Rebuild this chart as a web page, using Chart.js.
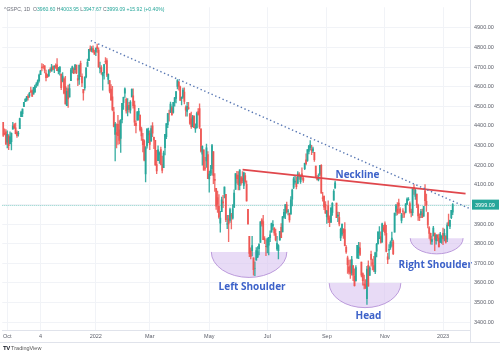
<!DOCTYPE html>
<html><head><meta charset="utf-8">
<script src="https://cdn.jsdelivr.net/npm/chart.js@4.4.1/dist/chart.umd.min.js"></script>
<style>
html,body{margin:0;padding:0;background:#fff;}
#wrap{position:relative;width:500px;height:357px;overflow:hidden;font-family:"Liberation Sans",Arial,sans-serif;}
canvas{position:absolute;left:0;top:0;}
#hdr{position:absolute;left:4px;top:6px;font-size:5.1px;color:#6a6d78;white-space:nowrap;}
#hdr .v{color:#26a69a;}
#logo{position:absolute;left:3px;top:345px;font-size:5.5px;color:#555;white-space:nowrap;}
#logo b{color:#131722;font-size:6px;letter-spacing:-0.5px;}
</style></head>
<body><div id="wrap"><canvas id="c" width="500" height="357"></canvas>
<div id="hdr">^GSPC, 1D &nbsp;O<span class="v">3960.60</span> H<span class="v">4003.95</span> L<span class="v">3947.67</span> C<span class="v">3999.09</span> <span class="v">+15.92 (+0.40%)</span></div>
<div id="logo"><b>TV</b> TradingView</div></div>
<script>
// Daily S&P 500 candles, 28 Sep 2021 .. 12 Jan 2023 (index 0 = 28 Sep 2021)
const opens = [
 4419,4362,4370,
 4317,4348,4310,4320,4384,4406,4391,4368,4359,4386,4447,4463,4498,4524,4532,4553,4553,4579,4580,4562,4573,
 4610,4613,4631,4662,4700,4702,4707,4670,4659,4656,4689,4679,4701,4700,4708,4712,4679,4675,4664,4628,4640,
 4602,4504,4589,4548,4631,4690,4690,4687,4710,4642,4637,4720,4653,4587,4594,4650,4703,4733,4795,4788,4795,4775,
 4778,4804,4787,4693,4698,4655,4670,4729,4734,4637,4632,4588,4548,4471,4357,4367,4409,4381,4337,4432,
 4519,4567,4536,4483,4505,4481,4548,4554,4507,4413,4429,4455,4456,4385,4332,4324,4155,4299,4354,
 4363,4322,4401,4342,4327,4203,4223,4253,4280,4203,4188,4289,4345,4407,4462,4469,4493,4469,4522,4541,4602,4624,4600,
 4540,4547,4573,4494,4474,4494,4462,4437,4397,4449,4385,4390,4473,4489,4385,4256,4279,4187,4222,4254,
 4130,4159,4181,4270,4128,4082,4035,3991,3904,3963,4013,4052,4051,3899,3927,3919,3942,3930,3985,4077,4151,
 4149,4096,4137,4134,4097,4147,4102,3975,3838,3764,3764,3728,3675,3716,3733,3775,3806,3921,3913,3826,3786,
 3782,3793,3831,3859,3889,3881,3851,3773,3764,3819,3883,3860,3935,3955,3998,3965,3953,3951,4027,4087,
 4113,4105,4107,4155,4116,4156,4133,4182,4227,4225,4270,4290,4280,4273,4266,4195,4134,4126,4154,4199,4034,4042,4000,
 3937,3994,3930,3910,3959,4022,4083,4007,3940,3933,3830,3849,3876,3872,3782,3728,3682,3687,3651,3688,3634,
 3610,3726,3754,3778,3706,3647,3594,3590,3520,3690,3638,3746,3703,3689,3657,3762,3799,3825,3836,3808,3881,
 3901,3853,3733,3767,3780,3817,3810,3859,3964,3977,4007,3976,3919,3967,3957,3959,4001,4024,4005,3964,3958,
 4087,4041,4053,3996,3937,3947,3954,3940,4069,4016,3958,3881,3853,3811,3840,3854,3815,3843,3829,3806,3830,
 3853,3840,3839,3823,3910,3888,3932,3961
];
const highs = [
 4419,4385,4382,
 4375,4356,4370,4365,4419,4412,4415,4375,4373,4440,4476,4487,4521,4540,4551,4560,4572,4598,4584,4597,4608,
 4621,4635,4664,4684,4718,4714,4708,4685,4665,4688,4697,4714,4706,4708,4717,4743,4699,4702,4664,4672,4647,
 4653,4595,4608,4613,4694,4705,4696,4713,4711,4660,4712,4731,4666,4587,4651,4697,4741,4791,4808,4805,4808,4787,
 4797,4818,4798,4726,4708,4673,4714,4749,4744,4666,4633,4611,4602,4495,4418,4411,4454,4428,4432,4516,
 4547,4595,4542,4540,4521,4530,4590,4589,4527,4426,4473,4490,4456,4395,4363,4329,4295,4385,4389,
 4375,4401,4417,4343,4327,4276,4299,4268,4292,4247,4272,4358,4412,4465,4481,4522,4501,4521,4546,4575,4637,4627,4604,
 4548,4593,4594,4503,4521,4521,4464,4471,4454,4453,4411,4471,4489,4513,4386,4299,4279,4240,4308,4269,
 4169,4200,4307,4270,4158,4082,4068,4050,3965,4038,4047,4090,4051,3945,3944,3981,3955,3999,4075,4158,4169,
 4167,4177,4143,4168,4165,4160,4120,3975,3838,3779,3838,3728,3708,3780,3785,3800,3913,3928,3945,3836,3818,
 3829,3832,3865,3905,3918,3881,3874,3838,3796,3863,3903,3939,3975,3999,4012,3975,3956,4040,4078,4140,
 4145,4140,4168,4162,4151,4187,4138,4211,4258,4280,4301,4325,4302,4293,4266,4195,4149,4156,4200,4203,4062,4044,4015,
 3970,4018,3942,3987,4010,4076,4119,4007,3961,3960,3880,3900,3876,3907,3790,3737,3716,3718,3736,3689,3672,
 3688,3791,3807,3806,3706,3652,3640,3617,3685,3712,3683,3762,3721,3736,3757,3802,3862,3887,3860,3905,3893,
 3911,3894,3751,3796,3814,3859,3818,3956,4001,4009,4028,3984,3955,3979,3962,4004,4034,4035,4013,3976,4080,
 4101,4080,4053,4002,3952,3975,3977,3991,4101,4053,3958,3887,3854,3839,3889,3854,3845,3846,3849,3858,3840,
 3879,3874,3840,3906,3951,3920,3970,4004
];
const lows = [
 4346,4355,4306,
 4288,4279,4309,4278,4384,4386,4360,4342,4348,4386,4447,4448,4498,4524,4527,4531,4546,4570,4551,4562,4573,
 4596,4604,4623,4662,4681,4694,4670,4630,4647,4651,4673,4679,4686,4672,4694,4682,4665,4659,4585,4625,4564,
 4511,4504,4495,4547,4631,4670,4667,4670,4667,4606,4612,4651,4600,4531,4583,4645,4703,4733,4780,4778,4775,4765,
 4758,4775,4699,4671,4663,4582,4639,4717,4651,4614,4569,4530,4477,4395,4222,4288,4306,4309,4265,4415,
 4485,4545,4465,4451,4471,4465,4548,4491,4402,4365,4429,4429,4373,4327,4268,4222,4115,4287,4315,
 4279,4322,4346,4284,4199,4157,4223,4209,4202,4161,4187,4252,4335,4391,4425,4469,4455,4465,4501,4518,4589,4582,4530,
 4507,4541,4513,4450,4450,4485,4408,4387,4395,4392,4367,4390,4455,4386,4267,4200,4175,4173,4189,4132,
 4062,4147,4150,4106,4067,3975,3959,3929,3859,3963,3984,4033,3912,3877,3810,3909,3875,3925,3985,4077,4109,
 4074,4074,4098,4110,4081,4107,4017,3900,3734,3722,3738,3640,3637,3716,3729,3743,3806,3889,3820,3800,3739,
 3753,3743,3810,3859,3870,3842,3814,3766,3722,3817,3831,3860,3930,3927,3956,3946,3910,3951,3992,4080,
 4104,4079,4107,4128,4107,4128,4112,4177,4201,4219,4257,4278,4254,4264,4219,4135,4124,4120,4147,4057,4017,3973,3954,
 3903,3907,3887,3907,3944,4022,4083,3932,3912,3891,3815,3839,3827,3789,3750,3648,3644,3623,3640,3611,3584,
 3610,3726,3723,3739,3631,3589,3569,3571,3491,3583,3638,3686,3666,3657,3647,3733,3799,3825,3803,3808,3863,
 3843,3758,3698,3722,3771,3786,3744,3859,3944,3946,3954,3954,3906,3933,3934,3957,3999,4020,3956,3937,3944,
 4051,4026,3984,3918,3917,3933,3933,3939,3994,3965,3880,3827,3797,3796,3840,3765,3798,3814,3783,3806,3801,
 3795,3814,3803,3810,3890,3877,3928,3948
];
const closes = [
 4352,4359,4307,
 4357,4300,4345,4363,4399,4391,4361,4350,4364,4438,4471,4486,4520,4536,4549,4544,4566,4574,4551,4596,4605,
 4613,4630,4660,4680,4697,4701,4685,4646,4649,4682,4682,4700,4688,4704,4698,4682,4690,4701,4595,4655,4567,
 4513,4577,4538,4591,4686,4701,4668,4712,4669,4634,4709,4668,4620,4568,4649,4697,4725,4791,4786,4793,4778,4766,
 4797,4794,4701,4696,4677,4670,4713,4726,4659,4663,4577,4533,4483,4398,4410,4357,4350,4327,4432,4516,
 4546,4589,4477,4501,4484,4522,4587,4504,4419,4401,4472,4475,4380,4349,4305,4226,4289,4385,4374,
 4306,4387,4363,4329,4201,4171,4278,4260,4204,4173,4262,4358,4412,4463,4461,4512,4456,4520,4543,4575,4632,4602,4530,
 4546,4583,4525,4481,4500,4488,4413,4397,4447,4392,4391,4463,4459,4394,4272,4296,4175,4184,4288,4132,
 4155,4175,4300,4147,4123,3991,4001,3935,3930,4024,4008,4089,3923,3901,3901,3974,3941,3979,4058,4158,4132,
 4101,4176,4109,4121,4161,4116,4018,3901,3750,3735,3790,3667,3675,3765,3760,3796,3912,3900,3821,3819,3785,
 3825,3831,3845,3903,3899,3855,3819,3802,3790,3863,3831,3937,3960,3999,3962,3967,3921,4024,4073,4130,
 4119,4091,4155,4152,4145,4140,4122,4210,4208,4280,4297,4305,4275,4284,4228,4138,4128,4141,4199,4058,4031,3986,3955,
 3967,3924,3908,3980,4006,4067,4110,3932,3946,3901,3873,3900,3856,3790,3758,3693,3655,3647,3719,3640,3586,
 3678,3791,3783,3745,3640,3612,3589,3577,3670,3583,3677,3720,3695,3666,3753,3797,3859,3830,3807,3901,3872,
 3856,3760,3720,3771,3807,3828,3749,3956,3993,3957,3991,3959,3947,3965,3950,4003,4027,4026,3964,3958,4080,
 4076,4072,3999,3941,3933,3964,3934,3991,4019,3996,3896,3852,3818,3821,3879,3822,3845,3829,3783,3849,3840,
 3824,3853,3808,3895,3893,3919,3970,3999.09
];
const lastPrice = 3999.09;

// Axis ticks
const xTickIdx  = [3, 27, 67, 106, 149, 191, 234, 276, 318];
const xTickText = ['Oct', '4', '2022', 'Mar', 'May', 'Jul', 'Sep', 'Nov', '2023'];
const priceTicks = [3400,3500,3600,3700,3800,3900,4000,4100,4200,4300,4400,4500,4600,4700,4800,4900];

// Drawn pattern annotations (bar index, price)
const trendX = [63.4, 337.5];
const trendY = [4835, 3978];
const neckX = [173.1, 334.3];
const neckY = [4177, 4055];
// bowls: centre index, top price, half-width (bars), depth (price)
const bowlIdx   = [177.8, 261.6, 313.4];
const bowlPrice = [3758, 3599, 3828];
const bowlHalfW = [27.3, 25.9, 19.1];
const bowlDepth = [130, 125, 80];
const noteText  = ['Left Shoulder', 'Head', 'Right Shoulder', 'Neckline'];
const noteIdx   = [180, 264.1, 312.4, 256.2];
const notePrice = [3579, 3430, 3689, 4147];

const GREEN = '#26a69a', RED = '#ef5350';
const idx = closes.map((_, i) => i);
const candleColors = idx.map(i => closes[i] >= opens[i] ? 'rgba(38,166,154,0.9)' : 'rgba(239,83,80,0.85)');

const overlay = {
  id: 'overlay',
  beforeDatasetsDraw(chart) {
    const {ctx, scales: {x, y}, chartArea: a} = chart;
    ctx.save();
    // price line
    ctx.strokeStyle = 'rgba(38,166,154,0.55)';
    ctx.lineWidth = 1;
    ctx.setLineDash([1, 1]);
    const py = Math.round(y.getPixelForValue(lastPrice)) + 0.5;
    ctx.beginPath(); ctx.moveTo(a.left, py); ctx.lineTo(a.right, py); ctx.stroke();
    ctx.setLineDash([]);
    // bowls
    bowlIdx.forEach((bi, k) => {
      const cx = x.getPixelForValue(bi);
      const cy = y.getPixelForValue(bowlPrice[k]);
      const rx = x.getPixelForValue(bi + bowlHalfW[k]) - cx;
      const ry = y.getPixelForValue(bowlPrice[k] - bowlDepth[k]) - cy;
      ctx.beginPath();
      ctx.ellipse(cx, cy, rx, ry, 0, 0, Math.PI);
      ctx.closePath();
      ctx.fillStyle = 'rgba(216,195,240,0.6)';
      ctx.fill();
      ctx.beginPath();
      ctx.ellipse(cx, cy, rx, ry, 0, 0, Math.PI);
      ctx.strokeStyle = '#bb9adb';
      ctx.lineWidth = 1;
      ctx.stroke();
    });
    ctx.restore();
  },
  afterDatasetsDraw(chart) {
    const {ctx, scales: {x, y}} = chart;
    ctx.save();
    ctx.font = 'bold 10px "Open Sans", "Liberation Sans", sans-serif';
    ctx.fillStyle = '#3d62c9';
    ctx.textAlign = 'center';
    ctx.textBaseline = 'middle';
    noteText.forEach((t, k) => {
      ctx.fillText(t, x.getPixelForValue(noteIdx[k]), y.getPixelForValue(notePrice[k]));
    });
    ctx.restore();
  },
  afterDraw(chart) {
    const {ctx, scales: {y}, chartArea: a} = chart;
    ctx.save();
    ctx.strokeStyle = '#e0e3eb';
    ctx.lineWidth = 1;
    ctx.beginPath();
    ctx.moveTo(0, a.bottom + 12.5); ctx.lineTo(500, a.bottom + 12.5);
    ctx.moveTo(a.right + 0.5, 0); ctx.lineTo(a.right + 0.5, a.bottom + 12);
    ctx.stroke();
    const py = y.getPixelForValue(lastPrice);
    ctx.fillStyle = GREEN;
    ctx.fillRect(a.right + 2, py - 5, 27, 10);
    ctx.fillStyle = '#fff';
    ctx.font = '5.5px "Liberation Sans", Arial, sans-serif';
    ctx.textBaseline = 'middle';
    ctx.textAlign = 'left';
    ctx.fillText(lastPrice.toFixed(2), a.right + 5, py + 0.5);
    ctx.restore();
  }
};

new Chart(document.getElementById('c'), {
  type: 'bar',
  data: {
    datasets: [
      { type: 'line', data: trendX.map((v, k) => ({x: v, y: trendY[k]})), borderColor: '#5877b3',
        borderWidth: 1.4, borderDash: [1.4, 2.6], pointRadius: 0, order: 0 },
      { type: 'line', data: neckX.map((v, k) => ({x: v, y: neckY[k]})), borderColor: '#e0474c',
        borderWidth: 1.8, pointRadius: 0, order: 0 },
      { data: idx.map(i => ({x: i, y: [opens[i], closes[i]]})), backgroundColor: candleColors,
        barThickness: 1.2, grouped: false, borderWidth: 0, order: 1 },
      { data: idx.map(i => ({x: i, y: [lows[i], highs[i]]})), backgroundColor: candleColors,
        barThickness: 0.7, grouped: false, borderWidth: 0, order: 2 }
    ]
  },
  options: {
    responsive: false, animation: false, events: [],
    layout: { padding: { left: 0, right: 0, top: 0, bottom: 15 } },
    plugins: { legend: { display: false }, tooltip: { enabled: false } },
    scales: {
      x: {
        type: 'linear', min: -0.6, max: 337.5, offset: false,
        afterBuildTicks: ax => { ax.ticks = xTickIdx.map(v => ({value: v})); },
        afterFit: ax => { ax.height = 12; },
        ticks: { autoSkip: false, maxRotation: 0, padding: 3,
          font: { size: 5.5, family: '"Liberation Sans", Arial, sans-serif' }, color: '#5d606b',
          callback: (v) => { const k = xTickIdx.indexOf(v); return k >= 0 ? xTickText[k] : ''; } },
        grid: { color: '#f1f3f7', drawTicks: false, offset: false },
        border: { color: '#e0e3eb' }
      },
      y: {
        type: 'linear', position: 'right', min: 3360, max: 5005,
        afterBuildTicks: ax => { ax.ticks = priceTicks.map(v => ({value: v})); },
        afterFit: ax => { ax.width = 30; },
        ticks: { padding: 4, font: { size: 5.5, family: '"Liberation Sans", Arial, sans-serif' }, color: '#5d606b',
          callback: v => v === 4000 ? '' : v.toFixed(2) },
        grid: { color: '#f1f3f7', drawTicks: false },
        border: { display: false }
      }
    }
  },
  plugins: [overlay]
});
</script>
</body></html>
